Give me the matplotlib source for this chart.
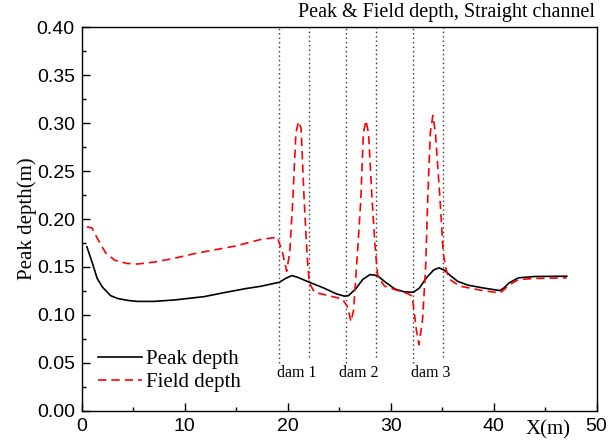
import matplotlib
matplotlib.use("Agg")
import matplotlib.pyplot as plt
from matplotlib.ticker import MultipleLocator, FormatStrFormatter

# peak depth (black solid)
peak_x = [0.5, 1.0, 1.5, 2.0, 2.8, 3.5, 4.5, 5.4, 7, 9, 11.9, 14, 16, 17.4, 19.2,
          19.8, 20.4, 21.0, 22.1, 23.5, 24.7, 25.5, 25.9, 26.6, 27.3, 28.0, 28.7,
          29.5, 30.4, 31.3, 32.2, 32.8, 33.5, 34.2, 34.7, 35.2, 35.8, 36.5, 37.5,
          39, 40.6, 41.0, 41.5, 42.4, 44, 47.1]
peak_y = [0.171, 0.155, 0.138, 0.129, 0.120, 0.117, 0.115, 0.114, 0.114, 0.1155,
          0.119, 0.1235, 0.1275, 0.1298, 0.134, 0.138, 0.141, 0.139, 0.134, 0.128,
          0.122, 0.1195, 0.120, 0.127, 0.137, 0.142, 0.141, 0.134, 0.127, 0.124,
          0.1235, 0.128, 0.139, 0.147, 0.149, 0.1466, 0.141, 0.135, 0.131, 0.128,
          0.1253, 0.128, 0.1333, 0.1386, 0.140, 0.1403]

# field depth (red dashed)
field_x = [0.5, 1.0, 1.5, 2.3, 3.2, 4.4, 5.4, 7, 9, 11, 13, 15, 17.4, 19.0, 19.5,
           19.9, 20.2, 20.5, 20.8, 21.05, 21.3, 21.6, 21.9, 22.1, 22.6, 24, 25.3,
           25.8, 26.15, 26.4, 26.8, 27.1, 27.35, 27.6, 27.85, 28.2, 28.5, 28.75,
           29.4, 30.5, 31.7, 32.1, 32.5, 32.75, 33.1, 33.4, 33.6, 33.85, 34.1, 34.35,
           34.8, 35.1, 35.4, 35.75, 36.7, 38.8, 40.6, 41.0, 41.4, 42.4, 44, 47.1]
field_y = [0.192, 0.1905, 0.180, 0.165, 0.157, 0.1536, 0.153, 0.155, 0.159, 0.164,
           0.168, 0.172, 0.1787, 0.181, 0.165, 0.1455, 0.165, 0.22, 0.29, 0.3017,
           0.295, 0.22, 0.16, 0.1333, 0.1235, 0.120, 0.1165, 0.1088, 0.093, 0.105,
           0.168, 0.22, 0.29, 0.3027, 0.29, 0.22, 0.17, 0.140, 0.130, 0.126, 0.122,
           0.1193, 0.084, 0.0687, 0.095, 0.150, 0.22, 0.29, 0.308, 0.29, 0.22, 0.165,
           0.1466, 0.1368, 0.130, 0.1256, 0.1228, 0.126, 0.1305, 0.1368, 0.138,
           0.1386]

# dam boundaries
dam_edges = [19.2, 22.1, 25.7, 28.6, 32.2, 35.1]
dam_bottoms = [0.050, 0.056, 0.050, 0.056, 0.050, 0.056]
dam_labels = ["dam 1", "dam 2", "dam 3"]
dam_label_x = [20.9, 26.9, 33.9]

serif = "Liberation Serif"
sans = "Liberation Sans"

fig = plt.figure(figsize=(6.1, 4.42), dpi=100)
ax = fig.add_axes([0.134, 0.071, 0.844, 0.867])

ax.vlines(dam_edges, dam_bottoms, 0.4, colors="#333333", linestyles=(0, (1, 2.2)),
          linewidth=1.0)
ax.plot(peak_x, peak_y, color="black", lw=1.2, label="Peak depth")
ax.plot(field_x, field_y, color="red", lw=1.2, ls=(0, (5, 3)), label="Field depth")

for lx, lab in zip(dam_label_x, dam_labels):
    ax.text(lx, 0.039, lab, ha="center", va="center", family=serif, fontsize=11.5)

ax.set_xlim(0, 50)
ax.set_ylim(0, 0.40)
ax.xaxis.set_major_locator(MultipleLocator(10))
ax.xaxis.set_minor_locator(MultipleLocator(5))
ax.yaxis.set_major_locator(MultipleLocator(0.05))
ax.yaxis.set_minor_locator(MultipleLocator(0.025))
ax.yaxis.set_major_formatter(FormatStrFormatter("%.2f"))
ax.tick_params(which="both", direction="in", top=False, right=False)
ax.tick_params(which="major", length=6, width=1, labelsize=14, pad=5)
ax.tick_params(which="minor", length=3, width=1)
for lbl in ax.get_xticklabels() + ax.get_yticklabels():
    lbl.set_family(sans)
for sp in ax.spines.values():
    sp.set_linewidth(1.0)

ax.set_ylabel("Peak depth(m)", family=serif, fontsize=15, labelpad=0)
ax.text(45.3, -0.0105, "X(m)", ha="center", va="top", family=serif, fontsize=15)

ax.legend(loc="lower left", bbox_to_anchor=(-0.005, 0.0), frameon=False,
          prop={"family": serif, "size": 15}, handlelength=2.1,
          handletextpad=0.2, labelspacing=0.15)

fig.text(447 / 610, 1 - 12 / 442, "Peak & Field depth, Straight channel",
         ha="center", va="center", family=serif, fontsize=14.5)

fig.savefig("out.png", dpi=100)
